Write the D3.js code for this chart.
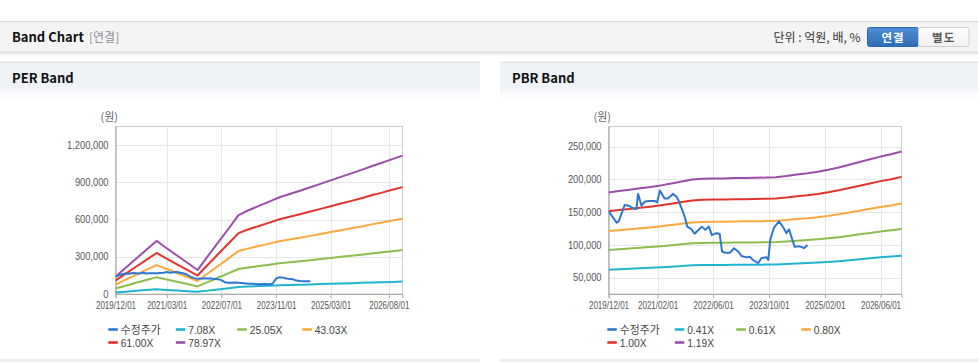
<!DOCTYPE html>
<html><head><meta charset="utf-8">
<script src="https://cdn.jsdelivr.net/npm/d3@7"></script>
<style>
html,body{margin:0;padding:0;background:#fff;overflow:hidden;}
svg{display:block;}
text{font-family:"Noto Sans CJK KR","Noto Sans",sans-serif;}
.num{font-family:"Liberation Sans",Arial,sans-serif;}
</style></head><body>
<svg id="c" width="978" height="362"></svg>
<script>
// ---------- DATA ----------
const bandDates = ["2019-12-01","2020-03-01","2020-06-01","2020-09-01","2020-12-01","2021-03-01","2021-06-01","2021-09-01","2021-12-01","2022-03-01","2022-06-01","2022-09-01","2022-12-01","2023-03-01","2023-06-01","2023-09-01","2023-12-01","2024-03-01","2024-06-01","2024-09-01","2024-12-01","2025-03-01","2025-06-01","2025-09-01","2025-12-01","2026-03-01","2026-06-01","2026-09-01","2026-12-01"];

// PER band
const perLabels = ["수정주가","7.08X","25.05X","43.03X","61.00X","78.97X"];
const perPriceDates = ["2019-12","2020-01","2020-02","2020-03","2020-04","2020-05","2020-06","2020-07","2020-08","2020-09","2020-10","2020-11","2020-12","2021-01","2021-02","2021-03","2021-04","2021-05","2021-06","2021-07","2021-08","2021-09","2021-10","2021-11","2021-12","2022-01","2022-02","2022-03","2022-04","2022-05","2022-06","2022-07","2022-08","2022-09","2022-10","2022-11","2022-12","2023-01","2023-02","2023-03","2023-04","2023-05","2023-06","2023-07","2023-08","2023-09","2023-10","2023-11","2023-12","2024-01","2024-02","2024-03","2024-04","2024-05","2024-06","2024-07","2024-08","2024-09"];
const perPrice = [140000,150000,160000,165000,163000,170000,168000,165000,172000,165000,168000,168000,168000,170000,172000,178000,172000,175000,178000,172000,165000,155000,138000,128000,122000,124000,127000,125000,126000,120000,118000,112000,95000,90000,90000,92000,90000,88000,85000,82000,82000,80000,78000,80000,80000,79000,82000,125000,135000,132000,125000,120000,118000,108000,105000,103000,102000,103000];
const per708 = [12600,19000,25500,31900,38400,33100,27800,22600,17300,27200,37100,47000,56900,60500,63700,66800,69900,72300,74600,77100,79600,82100,84600,87100,89700,92300,94900,97500,100000];
const per2505 = [44400,67200,90100,112900,135800,117000,98300,79900,61200,96100,131300,166200,201400,214100,225200,236300,247400,255700,263900,272800,281700,290600,299400,308300,317200,326700,335600,344800,353700];
const per4303 = [76300,115500,154800,194000,233200,201100,168900,137300,105200,165100,225600,285500,346000,367800,386900,405900,425000,439200,453400,468600,483900,499100,514400,529600,544900,561200,576500,592300,607600];
const per6100 = [108100,163700,219400,275000,330600,285000,239400,194600,149100,234000,319800,404700,490500,521400,548400,575400,602500,622600,642600,664300,685900,707500,729100,750800,772400,795600,817200,839600,861200];
const per7897 = [140000,212000,284000,356000,428000,369000,310000,252000,193000,303000,414000,524000,635000,675000,710000,745000,780000,806000,832000,860000,888000,916000,944000,972000,1000000,1030000,1058000,1087000,1115000];
const perYTicks = [0,300000,600000,900000,1200000];
const perXTicks = ["2019/12/01","2021/03/01","2022/07/01","2023/11/01","2025/03/01","2026/08/01"];

// PBR band
const pbrLabels = ["수정주가","0.41X","0.61X","0.80X","1.00X","1.19X"];
const pbrPriceDates = ["2019-12-04","2020-02-10","2020-02-28","2020-04-20","2020-05-25","2020-07-03","2020-08-01","2020-08-15","2020-09-14","2020-10-12","2020-11-12","2021-01-10","2021-01-28","2021-02-21","2021-04-03","2021-05-03","2021-06-15","2021-07-15","2021-08-06","2021-09-03","2021-09-28","2021-10-18","2021-11-24","2021-12-21","2022-02-06","2022-02-24","2022-03-25","2022-04-25","2022-05-21","2022-06-28","2022-07-28","2022-08-18","2022-09-15","2022-10-25","2022-12-01","2023-01-07","2023-02-03","2023-03-20","2023-04-16","2023-05-16","2023-06-28","2023-07-28","2023-09-10","2023-09-25","2023-10-13","2023-11-13","2023-12-28","2024-02-03","2024-03-01","2024-03-25","2024-04-13","2024-05-13","2024-06-13","2024-07-10","2024-08-01","2024-09-01"];
const pbrPrice = [151000,134000,136000,161000,160000,156000,155000,178000,160000,166000,167000,167000,165000,183000,171000,171000,178000,174000,167000,154000,142000,128000,124000,117000,125000,128000,123000,128000,115000,118000,117000,90000,88000,88000,95000,90000,83000,81000,82000,77000,72000,80000,81000,77000,108000,126000,136000,127000,118000,124000,113000,97000,98000,97000,95000,100000];
const pbr041 = [62100,62800,63600,64300,65000,65800,66800,67900,68900,69300,69500,69500,69600,69700,69800,69900,70100,70700,71500,72200,73000,74000,75200,76700,78100,79500,81000,82200,83600];
const pbr061 = [92400,93500,94600,95600,96700,97900,99400,101000,102500,103100,103400,103400,103600,103700,103900,104000,104300,105200,106400,107400,108600,110100,111900,114100,116200,118300,120500,122300,124400];
const pbr080 = [121200,122600,124000,125400,126800,128400,130400,132400,134400,135200,135600,135600,135800,136000,136200,136400,136800,138000,139600,140800,142400,144400,146800,149600,152400,155200,158000,160400,163200];
const pbr100 = [151500,153200,155000,156800,158500,160500,163000,165500,168000,169000,169500,169500,169800,170000,170300,170500,171000,172500,174500,176000,178000,180500,183500,187000,190500,194000,197500,200500,204000];
const pbr119 = [180300,182300,184500,186600,188600,191000,194000,196900,199900,201100,201700,201700,202100,202300,202700,202900,203500,205300,207700,209400,211800,214800,218400,222500,226700,230900,235000,238600,242800];
const pbrYTicks = [50000,100000,150000,200000,250000];
const pbrXTicks = ["2019/12/01","2021/02/01","2022/06/01","2023/10/01","2025/02/01","2026/06/01"];

const seriesColors = ["#2f76d2","#1fb5cf","#8cbd4c","#fca83c","#e2342b","#9a4ea9"];
const xDomain = ["2019-12-01","2026-12-01"];

// ---------- DRAW ----------
const svg = d3.select("#c");
const parse = s => {
  const p = s.replace(/\//g,"-").split("-").map(Number);
  return new Date(p[0], p[1]-1, p[2]||1);
};
function squeeze(sel, k){
  sel.each(function(){
    const w = this.getComputedTextLength();
    this.setAttribute("textLength", (w*k).toFixed(1));
    this.setAttribute("lengthAdjust","spacingAndGlyphs");
  });
}

// top header bar
const defs = svg.append("defs");
const sh = defs.append("linearGradient").attr("id","shadow").attr("x1",0).attr("y1",0).attr("x2",0).attr("y2",1);
sh.append("stop").attr("offset","0%").attr("stop-color","#d6d6d6");
sh.append("stop").attr("offset","100%").attr("stop-color","#ffffff");
const bg = defs.append("linearGradient").attr("id","btnBlue").attr("x1",0).attr("y1",0).attr("x2",0).attr("y2",1);
bg.append("stop").attr("offset","0%").attr("stop-color","#4c8dd4");
bg.append("stop").attr("offset","100%").attr("stop-color","#2e6db6");
const bw = defs.append("linearGradient").attr("id","btnWhite").attr("x1",0).attr("y1",0).attr("x2",0).attr("y2",1);
bw.append("stop").attr("offset","0%").attr("stop-color","#ffffff");
bw.append("stop").attr("offset","100%").attr("stop-color","#f1f1f1");
const pg = defs.append("linearGradient").attr("id","panelFade").attr("x1",0).attr("y1",0).attr("x2",0).attr("y2",1);
pg.append("stop").attr("offset","0%").attr("stop-color","#f6f7f9");
pg.append("stop").attr("offset","100%").attr("stop-color","#ffffff");

svg.append("rect").attr("x",0).attr("y",21).attr("width",978).attr("height",1.6).attr("fill","#dcdcdc");
svg.append("rect").attr("x",0).attr("y",22.5).attr("width",978).attr("height",29).attr("fill","#f4f4f4");
svg.append("rect").attr("x",0).attr("y",51.5).attr("width",978).attr("height",4).attr("fill","url(#shadow)");

svg.append("text").attr("x",12).attr("y",42).attr("font-size",13).attr("font-weight","bold").attr("fill","#111").text("Band Chart");
svg.append("text").attr("x",89).attr("y",42).attr("font-size",12).attr("fill","#8a8f99").text("[연결]");
svg.append("text").attr("x",860.5).attr("y",42).attr("font-size",12).attr("fill","#333").attr("text-anchor","end").text("단위 : 억원, 배, %");

svg.append("rect").attr("x",867.5).attr("y",27.5).attr("width",51).attr("height",19).attr("rx",2).attr("fill","url(#btnBlue)").attr("stroke","#2b67ae");
svg.append("rect").attr("x",918.5).attr("y",27.5).attr("width",50.5).attr("height",19).attr("rx",2).attr("fill","url(#btnWhite)").attr("stroke","#cfcfcf");
svg.append("text").attr("x",893).attr("y",41.5).attr("font-size",11.5).attr("font-weight","bold").attr("fill","#fff").attr("text-anchor","middle").attr("letter-spacing",1).text("연결");
svg.append("text").attr("x",943.7).attr("y",41.5).attr("font-size",11.5).attr("font-weight","bold").attr("fill","#555").attr("text-anchor","middle").attr("letter-spacing",1).text("별도");

function panel(x, w, title){
  svg.append("rect").attr("x",x).attr("y",61.5).attr("width",w).attr("height",2).attr("fill","#e3e6eb");
  svg.append("rect").attr("x",x).attr("y",63.5).attr("width",w).attr("height",27).attr("fill","#eff2f7");
  svg.append("rect").attr("x",x).attr("y",90.5).attr("width",w).attr("height",10).attr("fill","url(#panelFade)");
  svg.append("rect").attr("x",x).attr("y",359).attr("width",w).attr("height",3).attr("fill","#eeeeee");
  svg.append("text").attr("x",x+12).attr("y",82.5).attr("font-size",13).attr("font-weight","bold").attr("fill","#111").text(title);
}
panel(0,480,"PER Band");
panel(500,478,"PBR Band");

function chart(cfg){
  const g = svg.append("g");
  const x = d3.scaleTime().domain(xDomain.map(parse)).range([cfg.left, cfg.right]);
  const y = d3.scaleLinear().domain(cfg.yDomain).range([cfg.bottom, cfg.top]);
  // grid
  g.append("g").selectAll("line").data(cfg.yTicks).join("line")
    .attr("x1",cfg.left).attr("x2",cfg.right)
    .attr("y1",d=>Math.round(y(d))+0.5).attr("y2",d=>Math.round(y(d))+0.5)
    .attr("stroke","#e7e7e7");
  g.append("g").selectAll("line").data(cfg.xTicks).join("line")
    .attr("x1",d=>Math.round(x(parse(d)))+0.5).attr("x2",d=>Math.round(x(parse(d)))+0.5)
    .attr("y1",cfg.top).attr("y2",cfg.bottom)
    .attr("stroke","#e7e7e7");
  // frame
  g.append("rect").attr("x",cfg.left).attr("y",cfg.top).attr("width",cfg.right-cfg.left).attr("height",cfg.bottom-cfg.top)
    .attr("fill","none").attr("stroke","#cccccc");
  // axes
  const xAxis = d3.axisBottom(x).tickValues(cfg.xTicks.map(parse)).tickSize(4).tickFormat(d3.timeFormat("%Y/%m/%d"));
  const ax = g.append("g").attr("transform",`translate(0,${cfg.bottom})`).call(xAxis);
  ax.select(".domain").attr("stroke","#aaaaaa");
  ax.selectAll(".tick line").attr("stroke","#aaaaaa");
  ax.selectAll(".tick text").attr("class","num").attr("font-size",10).attr("fill","#555").attr("y",8).attr("dy","0.71em");
  squeeze(ax.selectAll(".tick text"),0.8);
  const yAxis = d3.axisLeft(y).tickValues(cfg.yTicks).tickSize(0).tickPadding(7).tickFormat(d3.format(","));
  const ay = g.append("g").attr("transform",`translate(${cfg.left},0)`).call(yAxis);
  ay.select(".domain").attr("stroke","#aaaaaa");
  ay.selectAll(".tick text").attr("class","num").attr("font-size",10).attr("fill","#555");
  squeeze(ay.selectAll(".tick text"),0.93);
  ax.attr("font-family",null); ay.attr("font-family",null);
  // unit label
  g.append("text").attr("x",cfg.left-15).attr("y",120.5).attr("font-size",11).attr("fill","#666").text("(원)");
  // lines
  const line = d3.line().x(d=>x(d[0])).y(d=>y(d[1]));
  const clipId = "clip"+cfg.left;
  defs.append("clipPath").attr("id",clipId).append("rect").attr("x",cfg.left).attr("y",cfg.top).attr("width",cfg.right-cfg.left+1).attr("height",cfg.bottom-cfg.top);
  const lg = g.append("g").attr("clip-path",`url(#${clipId})`);
  // draw bands first (bottom to top order), then price
  cfg.series.slice(1).forEach((s,i)=>{
    lg.append("path").datum(s.dates.map((d,j)=>[parse(d), s.values[j]]))
      .attr("d",line).attr("fill","none").attr("stroke",seriesColors[i+1]).attr("stroke-width",2).attr("stroke-linejoin","round");
  });
  const p = cfg.series[0];
  lg.append("path").datum(p.dates.map((d,j)=>[parse(d), p.values[j]]))
    .attr("d",line).attr("fill","none").attr("stroke",seriesColors[0]).attr("stroke-width",2).attr("stroke-linejoin","round");
  // legend
  const cols = [0,67.5,129,194];
  cfg.labels.forEach((lab,i)=>{
    const row = Math.floor(i/4), col = i%4;
    const lx = cfg.legendX + cols[col], ly = 329.5 + row*13;
    g.append("rect").attr("x",lx).attr("y",ly-1.3).attr("width",9.5).attr("height",2.6).attr("fill",seriesColors[i]);
    const t = g.append("text").attr("x",lx+12.5).attr("y",ly+4.2).attr("font-size",11.5).attr("fill","#444").text(lab);
    if(i>0) t.attr("class","num");
    squeeze(t, i===0?0.94:0.89);
  });
}

chart({
  left:115.5,right:402.5,top:126.5,bottom:294,
  yDomain:[0,1350000], yTicks:perYTicks, xTicks:perXTicks,
  labels:perLabels, legendX:108.3,
  series:[
    {dates:perPriceDates.map(d=>d+"-01"), values:perPrice},
    {dates:bandDates, values:per708},
    {dates:bandDates, values:per2505},
    {dates:bandDates, values:per4303},
    {dates:bandDates, values:per6100},
    {dates:bandDates, values:per7897}
  ]
});
chart({
  left:608.5,right:901.5,top:126.5,bottom:294,
  yDomain:[25000,281000], yTicks:pbrYTicks, xTicks:pbrXTicks,
  labels:pbrLabels, legendX:607.3,
  series:[
    {dates:pbrPriceDates, values:pbrPrice},
    {dates:bandDates, values:pbr041},
    {dates:bandDates, values:pbr061},
    {dates:bandDates, values:pbr080},
    {dates:bandDates, values:pbr100},
    {dates:bandDates, values:pbr119}
  ]
});
</script>
</body></html>
